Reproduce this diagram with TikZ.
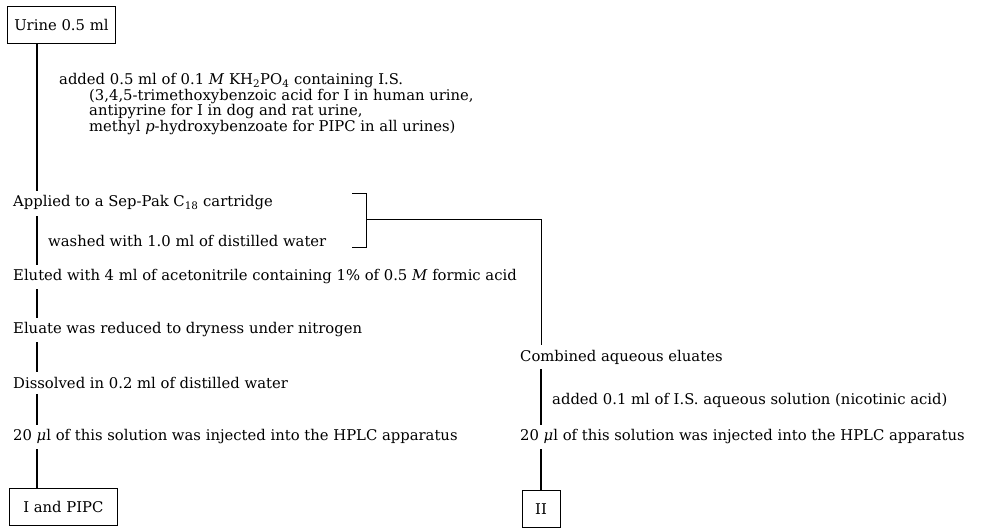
\documentclass[tikz,border=0pt]{standalone}
\usepackage{fontspec}
\setmainfont{DejaVu Serif}
\usepackage{tikz}
\usetikzlibrary{positioning}

\begin{document}
\begin{tikzpicture}[x=1pt, y=-1pt, font=\fontsize{14.8}{15.6}\selectfont,
  stepnote/.style={anchor=west, inner sep=0pt},
  samplebox/.style={draw, line width=0.8pt, inner sep=0pt, minimum height=37pt},
  flow/.style={line width=1.1pt}]
  \useasboundingbox (0,0) rectangle (981,529);
  % spine positions of the two branches
  \coordinate (spineL) at (37,0);
  \coordinate (spineR) at (541,0);
  % starting sample
  \node[samplebox, anchor=north west, minimum width=108pt] (urine) at (7,6) {Urine 0.5 ml};
  \node[anchor=north west, inner sep=0pt, align=left] (addis) at (59,73)
    {added 0.5 ml of 0.1 \textit{M} KH\textsubscript{2}PO\textsubscript{4} containing I.S.\\
     \hspace*{30pt}(3,4,5-trimethoxybenzoic acid for I in human urine,\\
     \hspace*{30pt}antipyrine for I in dog and rat urine,\\
     \hspace*{30pt}methyl \textit{p}-hydroxybenzoate for PIPC in all urines)};
  % left branch
  \node[stepnote] (applied) at (13,203) {Applied to a Sep-Pak C\textsubscript{18} cartridge};
  \node[stepnote] (washed) at (48,241) {washed with 1.0 ml of distilled water};
  \node[stepnote] (eluted) at (13,277)
    {Eluted with 4 ml of acetonitrile containing 1\% of 0.5 \textit{M} formic acid};
  \node[stepnote] (eluate) at (13,330) {Eluate was reduced to dryness under nitrogen};
  \node[stepnote] (dissolved) at (13,383) {Dissolved in 0.2 ml of distilled water};
  \node[stepnote] (injectL) at (13,437) {20 \textit{μ}l of this solution was injected into the HPLC apparatus};
  \node[samplebox, anchor=north west, minimum width=108pt] (pipc) at (9,488) {I and PIPC};
  % right branch (aqueous eluates)
  \node[stepnote] (combined) at (520,357) {Combined aqueous eluates};
  \node[stepnote] (addnic) at (552,400) {added 0.1 ml of I.S. aqueous solution (nicotinic acid)};
  \node[stepnote] (injectR) at (520,437) {20 \textit{μ}l of this solution was injected into the HPLC apparatus};
  \node[samplebox, anchor=north, minimum width=38pt] (two) at (541,490) {II};
  % bracket round the cartridge steps
  \coordinate (brtop) at (352,193);
  \coordinate (brbot) at (352,247);
  \coordinate (brmid) at (366,219);
  % connectors
  \draw[flow] (spineL |- urine.south) -- ([yshift=5pt]spineL |- applied.north);
  \draw[flow] ([yshift=-6pt]spineL |- applied.south) -- ([yshift=5pt]spineL |- eluted.north);
  \draw[flow] ([yshift=-5pt]spineL |- eluted.south) -- ([yshift=5pt]spineL |- eluate.north);
  \draw[flow] ([yshift=-5pt]spineL |- eluate.south) -- ([yshift=5pt]spineL |- dissolved.north);
  \draw[flow] ([yshift=-5pt]spineL |- dissolved.south) -- ([yshift=5pt]spineL |- injectL.north);
  \draw[flow] ([yshift=-5pt]spineL |- injectL.south) -- (spineL |- pipc.north);
  \draw[line width=0.9pt] (brtop) -| (brbot -| brmid) -- (brbot);
  \draw[line width=0.9pt] (brmid) -| ([yshift=5pt]spineR |- combined.north);
  \draw[flow] ([yshift=-5pt]spineR |- combined.south) -- ([yshift=5pt]spineR |- injectR.north);
  \draw[flow] ([yshift=-5pt]spineR |- injectR.south) -- (two.north);
\end{tikzpicture}
\end{document}
